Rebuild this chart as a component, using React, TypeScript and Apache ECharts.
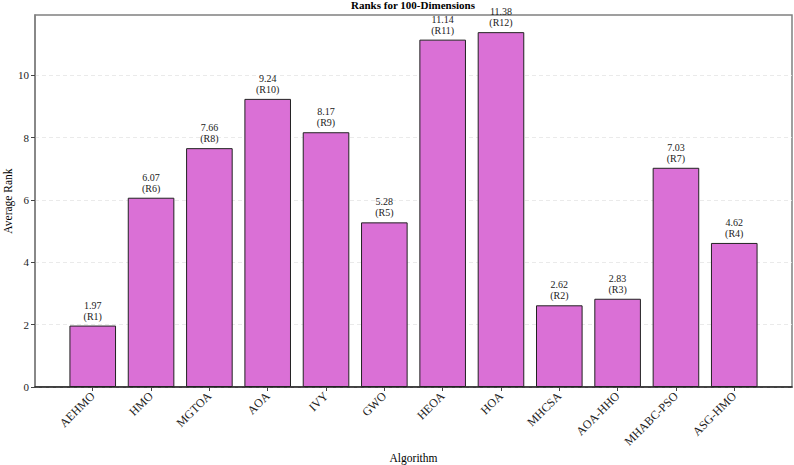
import React, { useEffect, useRef } from "react";
import * as echarts from "echarts";

const categories = ["AEHMO", "HMO", "MGTOA", "AOA", "IVY", "GWO", "HEOA", "HOA", "MHCSA", "AOA-HHO", "MHABC-PSO", "ASG-HMO"];
const avgRanks = [1.97, 6.07, 7.66, 9.24, 8.17, 5.28, 11.14, 11.38, 2.62, 2.83, 7.03, 4.62];
const rankLabels = ["R1", "R6", "R8", "R10", "R9", "R5", "R11", "R12", "R2", "R3", "R7", "R4"];
const yTicks = [0, 2, 4, 6, 8, 10];

const FONT = "'Liberation Serif', 'Times New Roman', serif";

export default function App() {
  const ref = useRef<HTMLDivElement>(null);
  useEffect(() => {
    if (!ref.current) return;
    const chart = echarts.init(ref.current, null, { renderer: "svg" });
    const idx = categories.map((_, i) => i);
    chart.setOption({
      animation: false,
      backgroundColor: "#ffffff",
      textStyle: { fontFamily: FONT },
      title: {
        text: "Ranks for 100-Dimensions",
        left: 413,
        textAlign: "center",
        top: -1,
        padding: 0,
        textStyle: { fontFamily: FONT, fontSize: 11, fontWeight: "bold", color: "#000" },
      },
      grid: {
        left: 35,
        right: 2,
        top: 15,
        bottom: 78,
        containLabel: false,
        outerBoundsMode: "none",
        show: true,
        borderColor: "#808080",
        borderWidth: 1.5,
        backgroundColor: "transparent",
      },
      xAxis: {
        type: "value",
        min: -0.99,
        max: 11.99,
        name: "Algorithm",
        nameLocation: "middle",
        nameGap: 71,
        nameMoveOverlap: false,
        nameTextStyle: { fontFamily: FONT, fontSize: 11.5, color: "#000", verticalAlign: "middle" },
        axisLine: { show: true, onZero: false, lineStyle: { color: "#222", width: 1.5 } },
        axisTick: { show: true, length: 4, customValues: idx, lineStyle: { color: "#444" } },
        axisLabel: {
          customValues: idx,
          rotate: 45,
          fontFamily: FONT,
          fontSize: 12,
          color: "#222",
          margin: 7,
          formatter: (v: number) => categories[Math.round(v)] ?? "",
        },
        splitLine: { show: false },
      },
      yAxis: {
        type: "value",
        min: 0,
        max: 11.93,
        name: "Average Rank",
        nameLocation: "middle",
        nameGap: 27,
        nameMoveOverlap: false,
        nameTextStyle: { fontFamily: FONT, fontSize: 11.5, color: "#000", verticalAlign: "middle" },
        axisLine: { show: true, onZero: false, lineStyle: { color: "#808080", width: 1.5 } },
        axisTick: { show: true, length: 4, customValues: yTicks, lineStyle: { color: "#444" } },
        axisLabel: {
          customValues: yTicks,
          fontFamily: FONT,
          fontSize: 11,
          color: "#222",
          margin: 6,
        },
        splitLine: { show: true, lineStyle: { color: "#e4e4e4", type: [4, 3], width: 0.8 } },
      },
      series: [
        {
          type: "bar",
          barWidth: 46.6,
          data: avgRanks.map((v, i) => [i, v]),
          itemStyle: { color: "#DA70D6", borderColor: "#222", borderWidth: 1 },
          label: {
            show: true,
            position: "top",
            distance: 4,
            fontFamily: FONT,
            fontSize: 10,
            lineHeight: 11,
            color: "#222",
            formatter: (p: any) => `${avgRanks[p.dataIndex].toFixed(2)}\n(${rankLabels[p.dataIndex]})`,
          },
        },
      ],
    });
    return () => chart.dispose();
  }, []);
  return <div ref={ref} style={{ width: 794, height: 465, position: "absolute", left: 0, top: 0 }} />;
}
